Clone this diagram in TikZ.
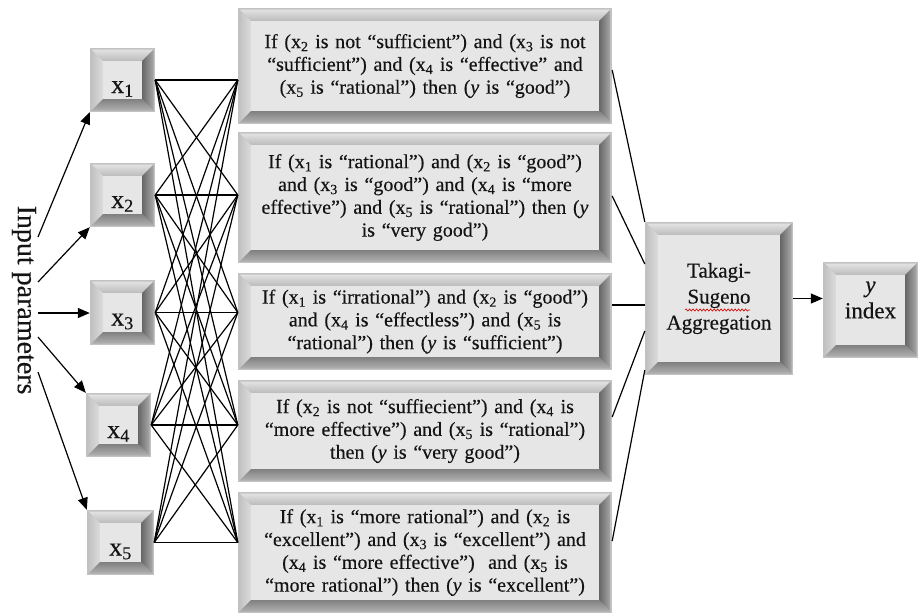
\documentclass[tikz,border=0pt]{standalone}
\usepackage{fontspec}
\setmainfont{Liberation Serif}[FakeBold=0.3]
\usetikzlibrary{arrows.meta,decorations.pathmorphing}

\definecolor{bevrim}{HTML}{C2C2C2}
\definecolor{bevtopA}{HTML}{E2E2E2}
\definecolor{bevtopB}{HTML}{BBBBBB}
\definecolor{bevleftA}{HTML}{C2C2C2}
\definecolor{bevleftB}{HTML}{DCDCDC}
\definecolor{bevrightA}{HTML}{666666}
\definecolor{bevrightB}{HTML}{A8A8A8}
\definecolor{bevbotA}{HTML}{808080}
\definecolor{bevbotB}{HTML}{B0B0B0}
\definecolor{bevface}{HTML}{E6E6E6}
\definecolor{ink}{HTML}{141414}

\newcommand\xs[1]{x\textsubscript{#1}}

% Bevelled box: #1 node options, #2 name, #3 left, #4 top, #5 right, #6 bottom, #7 text
\newcommand\bevbox[7]{%
  \def\bbL{#3}\def\bbT{#4}\def\bbR{#5}\def\bbB{#6}%
  \pgfmathsetmacro\ibL{\bbL+13}\pgfmathsetmacro\ibT{\bbT+13}%
  \pgfmathsetmacro\ibR{\bbR-13}\pgfmathsetmacro\ibB{\bbB-13}%
  \fill[bevrim] (\bbL,\bbT) rectangle (\bbR,\bbB);
  \shade[top color=bevtopA, bottom color=bevtopB]
    (\bbL+1.5,\bbT+1.5) -- (\bbR-1.5,\bbT+1.5) -- (\ibR,\ibT) -- (\ibL,\ibT) -- cycle;
  \shade[left color=bevleftA, right color=bevleftB]
    (\bbL+1.5,\bbT+1.5) -- (\ibL,\ibT) -- (\ibL,\ibB) -- (\bbL+1.5,\bbB-1.5) -- cycle;
  \shade[left color=bevrightA, right color=bevrightB]
    (\bbR-1.5,\bbT+1.5) -- (\bbR-1.5,\bbB-1.5) -- (\ibR,\ibB) -- (\ibR,\ibT) -- cycle;
  \shade[top color=bevbotA, bottom color=bevbotB]
    (\bbL+1.5,\bbB-1.5) -- (\ibL,\ibB) -- (\ibR,\ibB) -- (\bbR-1.5,\bbB-1.5) -- cycle;
  \fill[bevface] (\ibL,\ibT) rectangle (\ibR,\ibB);
  \node[#1, minimum width={\bbR-\bbL}, minimum height={\bbB-\bbT}]
    (#2) at ({(\bbL+\bbR)/2},{(\bbT+\bbB)/2}) {#7};
}

\begin{document}
\begin{tikzpicture}[x=1pt,y=-1pt,
  every node/.style={text=ink, inner sep=2pt},
  xbox/.style={font=\fontsize{26}{28}\selectfont, text height=26pt, text depth=0pt},
  rulebox/.style={align=center, text width=356pt, font=\fontsize{20}{22.8}\selectfont},
  aggbox/.style={align=center, font=\fontsize{21}{26}\selectfont},
  outbox/.style={align=center, font=\fontsize{23}{26}\selectfont},
  link/.style={draw=black, line width=1.2pt},
  feed/.style={draw=black, line width=1.2pt, -{Triangle[length=12pt,width=10pt]}}]
\useasboundingbox (0,0) rectangle (918,614);
\fill[white] (0,0) rectangle (918,614);

% input variables
\bevbox{xbox}{x1}{90}{48}{155}{112}{\xs{1}}
\bevbox{xbox}{x2}{90}{163}{155}{227}{\xs{2}}
\bevbox{xbox}{x3}{90}{280}{155}{345}{\xs{3}}
\bevbox{xbox}{x4}{86}{393}{151}{457}{\xs{4}}
\bevbox{xbox}{x5}{87}{510}{154}{575}{\xs{5}}

% fuzzy rules
\bevbox{rulebox}{r1}{238}{8}{612}{124}{If (\xs{2} is not “sufficient”) and (\xs{3} is not\\
“sufficient”) and (\xs{4} is “effective” and\\
(\xs{5} is “rational”) then (\textit{y} is “good”)}
\bevbox{rulebox}{r2}{238}{132}{612}{263}{If (\xs{1} is “rational”) and (\xs{2} is “good”)\\
and (\xs{3} is “good”) and (\xs{4} is “more\\
effective”) and (\xs{5} is “rational”) then (\textit{y}\\
is “very good”)}
\bevbox{rulebox}{r3}{238}{273}{612}{370}{If (\xs{1} is “irrational”) and (\xs{2} is “good”)\\
and (\xs{4} is “effectless”) and (\xs{5} is\\
“rational”) then (\textit{y} is “sufficient”)}
\bevbox{rulebox}{r4}{238}{380}{612}{482}{If (\xs{2} is not “suffiecient”) and (\xs{4} is\\
“more effective”) and (\xs{5} is “rational”)\\
then (\textit{y} is “very good”)}
\bevbox{rulebox}{r5}{238}{492}{612}{613}{If (\xs{1} is “more rational”) and (\xs{2} is\\
“excellent”) and (\xs{3} is “excellent”) and\\
(\xs{4} is “more effective”)\ \ and (\xs{5} is\\
“more rational”) then (\textit{y} is “excellent”)}

% aggregation and output
\bevbox{aggbox}{ts}{645}{222}{793}{375}{Takagi-\\Sugeno\\Aggregation}
\bevbox{outbox}{yi}{823}{262}{918}{358}{\textit{y}\\index\\[-6pt]\mbox{}}
\draw[red!85!black, line width=0.6pt, decorate,
      decoration={snake, amplitude=1.1pt, segment length=3.5pt}]
  ([shift={(-34,11.5)}]ts.center) -- ([shift={(31,11.5)}]ts.center);

% input label and its arrows
\node[rotate=-90, font=\fontsize{28}{32}\selectfont] (inp) at (24,300) {Input parameters};
\coordinate (s1) at (38,237);
\coordinate (s2) at (38,282);
\coordinate (s3) at (38,313);
\coordinate (s4) at (38,337);
\coordinate (s5) at (38,372);
\draw[feed] (s1) -- (x1.south west);
\draw[feed] (s2) -- (x2.south west);
\draw[feed] (s3) -- (s3 -| x3.west);
\draw[feed] (s4) -- (x4.north west);
\draw[feed] (s5) -- (x5.north west);

% every input feeds every rule
\foreach \i in {1,...,5}{
  \foreach \j in {1,...,5}{
    \draw[link] (x\i.east) -- (r\j.west |- x\j.east);
  }
}

% rules into the aggregation
\coordinate (o1) at ([yshift=-4pt]r1.east);
\coordinate (o2) at ([yshift=1.5pt]r2.east);
\coordinate (o3) at ([yshift=16.5pt]r3.east);
\coordinate (o4) at ([yshift=14pt]r4.east);
\coordinate (o5) at ([yshift=11.5pt]r5.east);
\draw[link] (o1) -- (ts.north west);
\draw[link] (o2) -- ([yshift=34.5pt]ts.west);
\draw[link] (o3) -- (o3 -| ts.west);
\draw[link] (o4) -- ([yshift=-32.5pt]ts.west);
\draw[link] (o5) -- ([yshift=5pt]ts.south west);

\draw[feed] (ts.east) -- (ts.east -| yi.west);
\end{tikzpicture}
\end{document}
